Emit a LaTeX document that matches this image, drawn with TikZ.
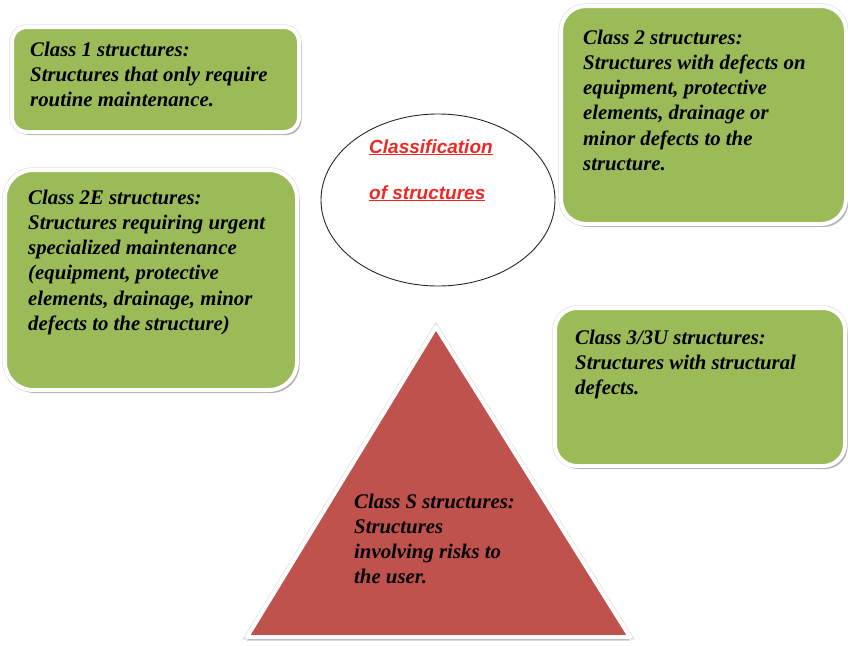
\documentclass[tikz,border=0pt]{standalone}
\usepackage{fontspec}
\setmainfont{Liberation Serif}
\newfontfamily\headfont{Liberation Sans}
\usetikzlibrary{shadows,fit,calc,shapes.geometric}
\definecolor{boxgreen}{RGB}{155,187,89}
\definecolor{riskred}{RGB}{192,82,78}
\definecolor{titlered}{RGB}{238,40,36}
\begin{document}
\begin{tikzpicture}[x=1pt,y=-1pt,
  % white frame with a faint grey rim and a soft shadow
  framed/.style={preaction={draw=black!12, line width=5.4pt},
    draw=white, line width=4pt,
    drop shadow={shadow xshift=2.5pt, shadow yshift=-3pt, opacity=0.45, fill=black!60}},
  classbox/.style={framed, fill=boxgreen, inner sep=0pt},
  % multi-line texts are placed by the baseline of their last line
  classtext/.style={anchor=base west, align=left, inner sep=0pt,
    font=\fontsize{20.8}{25.3}\selectfont\bfseries\itshape},
  titletext/.style={anchor=base west, inner sep=0pt, text=titlered,
    font=\headfont\fontsize{19}{22}\selectfont\bfseries\itshape},
]
\useasboundingbox (0,0) rectangle (848,645);

% class boxes
\node[classbox, rounded corners=15pt, fit={(12,27) (299,132)}] (c1) {};
\node[classbox, rounded corners=25pt, fit={(561,6) (846,224)}] (c2) {};
\node[classbox, rounded corners=28pt, fit={(5,170) (297,390)}] (c2e) {};
\node[classbox, rounded corners=22pt, fit={(555,308) (845,466)}] (c3) {};

% central ellipse
\node[draw=black!85, line width=0.9pt, ellipse, minimum width=234pt, minimum height=172pt,
  inner sep=0pt] (center) at (438,200) {};

% class S triangle
\coordinate (apex) at (436,327);
\coordinate (baseR) at (630,637);
\coordinate (baseL) at (247,637);
\draw[preaction={draw=black!12, line width=5.4pt}, draw=white, line width=4pt,
  fill=riskred, line join=round,
  drop shadow={shadow xshift=0pt, shadow yshift=-3.5pt, opacity=0.4, fill=black!60}]
  (apex) -- (baseR) -- (baseL) -- cycle;

% texts
\node[titletext] (title1) at (369,153) {\underline{Classification}};
\node[titletext] (title2) at (369,199) {\underline{of structures}};

\node[classtext] (t1) at (30,106.6) {Class 1 structures:\\Structures that only require\\routine maintenance.};
\node[classtext] (t2) at (583,170.5) {Class 2 structures:\\Structures with defects on\\equipment, protective\\elements, drainage or\\minor defects to the\\structure.};
\node[classtext] (t2e) at (28,330.5) {Class 2E structures:\\Structures requiring urgent\\specialized maintenance\\(equipment, protective\\elements, drainage, minor\\defects to the structure)};
\node[classtext] (t3) at (575,394.6) {Class 3/3U structures:\\Structures with structural\\defects.};
\node[classtext] (ts) at (354,583.9) {Class S structures:\\Structures\\involving risks to\\the user.};
\end{tikzpicture}
\end{document}
